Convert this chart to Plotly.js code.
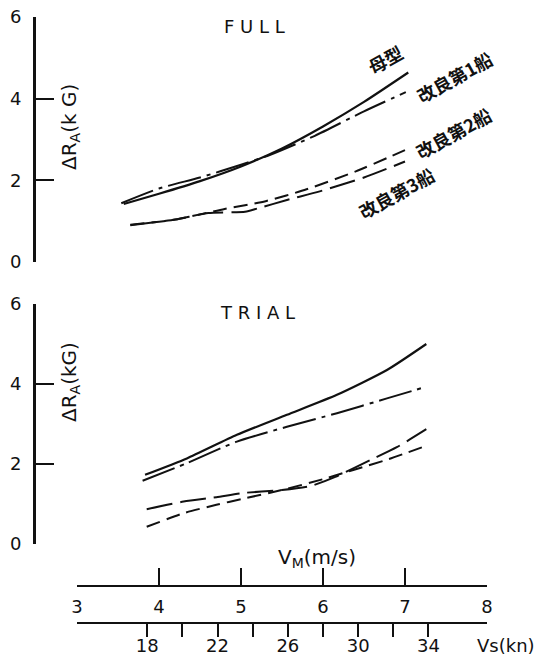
<!DOCTYPE html>
<html>
<head>
<meta charset="utf-8">
<script src="https://cdn.plot.ly/plotly-3.0.1.min.js"></script>
<style>
  html, body { margin: 0; padding: 0; background: #fff; }
  #chart { width: 542px; height: 666px; }
</style>
</head>
<body>
<div id="chart"></div>
<script>
// Added resistance ΔR_A (kG) against model speed V_M (m/s)

// FULL load condition
const fullParentVm = [3.57, 4.0, 4.5, 5.0, 5.5, 6.0, 6.5, 7.04];
const fullParentRa = [1.42, 1.67, 1.98, 2.34, 2.78, 3.32, 3.92, 4.64];
const fullShip1Vm  = [3.54, 4.0, 4.5, 5.0, 5.35, 5.9, 6.5, 7.01];
const fullShip1Ra  = [1.44, 1.80, 2.07, 2.38, 2.62, 3.09, 3.69, 4.16];
const fullShip2Vm  = [3.65, 4.2, 4.8, 5.3, 5.8, 6.4, 7.0];
const fullShip2Ra  = [0.91, 1.04, 1.30, 1.49, 1.78, 2.22, 2.74];
const fullShip3Vm  = [3.65, 4.2, 4.6, 5.05, 5.2, 5.56, 5.96, 6.5, 7.0];
const fullShip3Ra  = [0.90, 1.04, 1.20, 1.23, 1.31, 1.52, 1.73, 2.07, 2.46];

// TRIAL condition
const trialParentVm = [3.83, 4.34, 4.95, 5.56, 6.17, 6.78, 7.26];
const trialParentRa = [1.73, 2.14, 2.73, 3.23, 3.73, 4.35, 5.00];
const trialShip1Vm  = [3.80, 4.34, 4.95, 5.56, 6.17, 6.78, 7.24];
const trialShip1Ra  = [1.58, 2.02, 2.56, 2.93, 3.27, 3.64, 3.92];
const trialShip2Vm  = [3.85, 4.3, 4.7, 5.0, 5.5, 6.0, 6.4, 6.8, 7.25];
const trialShip2Ra  = [0.43, 0.77, 0.98, 1.12, 1.35, 1.62, 1.87, 2.12, 2.45];
const trialShip3Vm  = [3.85, 4.3, 4.7, 5.0, 5.5, 5.85, 6.15, 6.6, 6.9, 7.26];
const trialShip3Ra  = [0.87, 1.06, 1.17, 1.27, 1.35, 1.45, 1.68, 2.12, 2.42, 2.87];

// axis ticks
const raTicks = [0, 2, 4, 6];
const vmTicks = [3, 4, 5, 6, 7, 8];
const vsTicks = [18, 22, 26, 30, 34];
const vsMinorTicks = [20, 24, 28, 32];
const vmRange = [3, 8];
const KN_PER_MS = 28 / 6;   // ship speed (kn) per model speed (m/s)

// series names
const seriesNames = ['母型', '改良第1船', '改良第2船', '改良第3船'];
const panelTitles = ['F U L L', 'T R I A L'];

const W = 542, H = 666;
const fx = p => p / W;        // pixel from left -> paper
const fy = p => 1 - p / H;    // pixel from top  -> paper

const FONT = 'DejaVu Sans, sans-serif';
const JP = 'Noto Sans CJK JP, sans-serif';
const INK = '#111';

const styles = [
  { dash: 'solid', width: 2.2 },
  { dash: '34px,6px,4px,6px', width: 2 },
  { dash: '14px,7px', width: 2 },
  { dash: '26px,8px', width: 2 }
];

function curve(x, y, k, yaxis) {
  return {
    type: 'scatter', mode: 'lines', x: x, y: y, xaxis: 'x', yaxis: yaxis,
    name: seriesNames[k], showlegend: false, hoverinfo: 'skip',
    line: { color: INK, width: styles[k].width, dash: styles[k].dash, shape: 'spline', smoothing: 0.6 }
  };
}

const traces = [
  curve(fullParentVm, fullParentRa, 0, 'y'),
  curve(fullShip1Vm, fullShip1Ra, 1, 'y'),
  curve(fullShip2Vm, fullShip2Ra, 2, 'y'),
  curve(fullShip3Vm, fullShip3Ra, 3, 'y'),
  curve(trialParentVm, trialParentRa, 0, 'y2'),
  curve(trialShip1Vm, trialShip1Ra, 1, 'y2'),
  curve(trialShip2Vm, trialShip2Ra, 2, 'y2'),
  curve(trialShip3Vm, trialShip3Ra, 3, 'y2'),
  // carrier for the ship-speed scale
  { type: 'scatter', mode: 'lines', x: vmRange.map(v => v * KN_PER_MS), y: [0, 0],
    xaxis: 'x2', yaxis: 'y2', opacity: 0, showlegend: false, hoverinfo: 'skip' }
];

function raAxis(top, bottom) {
  return {
    domain: [fy(bottom), fy(top)], range: [0, 6], anchor: 'free', position: fx(34),
    showline: true, linewidth: 2.5, linecolor: INK,
    ticks: 'inside', ticklen: 18, tickwidth: 2, tickcolor: INK,
    tickvals: raTicks, ticklabelstandoff: 8,
    tickfont: { family: FONT, size: 18, color: INK },
    showgrid: false, zeroline: false, fixedrange: true
  };
}

const jpFont = { family: JP, size: 18, color: INK, weight: 700 };

const layout = {
  width: W, height: H,
  margin: { l: 0, r: 0, t: 0, b: 0, pad: 0 },
  paper_bgcolor: '#fff', plot_bgcolor: 'rgba(0,0,0,0)',
  showlegend: false,
  xaxis: {
    domain: [fx(77), fx(487)], range: vmRange, anchor: 'free', position: fy(586),
    showline: true, linewidth: 2, linecolor: INK,
    ticks: 'inside', ticklen: 17, tickwidth: 2, tickcolor: INK,
    tickvals: vmTicks, ticklabelstandoff: 4,
    tickfont: { family: FONT, size: 18, color: INK },
    showgrid: false, zeroline: false, fixedrange: true
  },
  xaxis2: {
    overlaying: 'x', range: vmRange.map(v => v * KN_PER_MS), anchor: 'free', position: fy(623),
    side: 'bottom',
    showline: true, linewidth: 2, linecolor: INK,
    ticks: 'outside', ticklen: 13, tickwidth: 2, tickcolor: INK,
    tickvals: vsTicks, ticklabelstandoff: -7,
    minor: { tickmode: 'array', tickvals: vsMinorTicks, ticks: 'outside', ticklen: 13, tickwidth: 2, tickcolor: INK, showgrid: false },
    tickfont: { family: FONT, size: 18, color: INK },
    showgrid: false, zeroline: false, fixedrange: true
  },
  yaxis: raAxis(17, 262),
  yaxis2: raAxis(304, 544),
  annotations: [
    { text: panelTitles[0], x: fx(254), y: fy(26) },
    { text: panelTitles[1], x: fx(257), y: fy(312) },
    { text: 'ΔR<sub>A</sub>(k G)', x: fx(70), y: fy(127), textangle: -90, font: { family: FONT, size: 20, color: INK } },
    { text: 'ΔR<sub>A</sub>(kG)', x: fx(70), y: fy(382), textangle: -90, font: { family: FONT, size: 20, color: INK } },
    { text: 'V<sub>M</sub>(m/s)', x: fx(317), y: fy(558), font: { family: FONT, size: 20, color: INK } },
    { text: 'Vs(kn)', x: fx(506), y: fy(645) },
    { text: seriesNames[0], x: fx(385), y: fy(59), textangle: -29, font: jpFont },
    { text: seriesNames[1], x: fx(454), y: fy(77), textangle: -29, font: jpFont },
    { text: seriesNames[2], x: fx(453), y: fy(133), textangle: -29, font: jpFont },
    { text: seriesNames[3], x: fx(396), y: fy(193), textangle: -29, font: jpFont }
  ].map(a => Object.assign({
    xref: 'paper', yref: 'paper', xanchor: 'center', yanchor: 'middle', showarrow: false,
    font: { family: FONT, size: 18, color: INK }
  }, a))
};

Plotly.newPlot('chart', traces, layout, { staticPlot: true, displayModeBar: false });
</script>
</body>
</html>
